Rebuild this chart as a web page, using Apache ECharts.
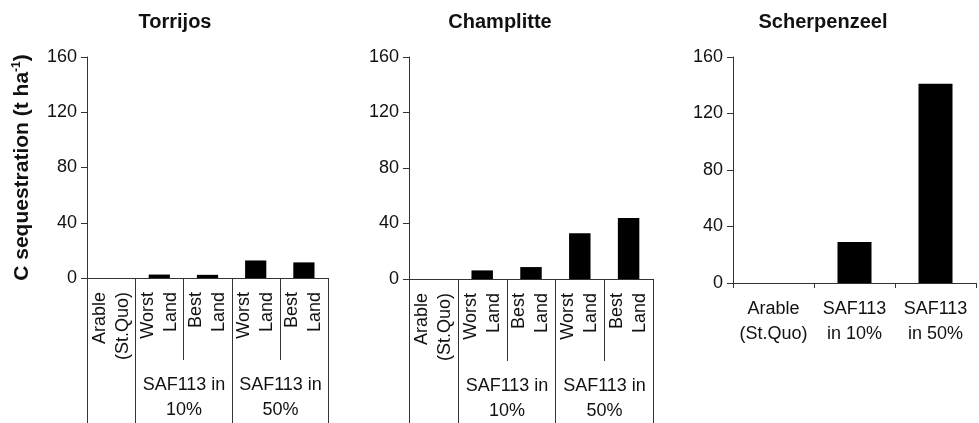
<!DOCTYPE html>
<html>
<head>
<meta charset="utf-8">
<script src="https://cdn.jsdelivr.net/npm/echarts@6/dist/echarts.min.js"></script>
<style>html,body{margin:0;padding:0;background:#fff}#c{width:979px;height:423px}</style>
</head>
<body>
<div id="c"></div>
<script>
// ---- data ----
const siteTitles = ['Torrijos', 'Champlitte', 'Scherpenzeel'];
const detailCategories = ['Arable\n(St.Quo)', 'Worst\nLand', 'Best\nLand', 'Worst\nLand', 'Best\nLand'];
const simpleCategories = ['Arable\n(St.Quo)', 'SAF113\nin 10%', 'SAF113\nin 50%'];
const torrijosValues = [0, 2.5, 2.3, 12.7, 11.3];
const champlitteValues = [0, 6.2, 8.6, 32.9, 44];
const scherpenzeelValues = [0, 29, 141];
const groupLabels = ['', 'SAF113 in\n10%', 'SAF113 in\n50%'];
const groupStart = [0, 1, 3];
const groupEnd = [0, 2, 4];
const yTicks = [0, 40, 80, 120, 160];
const yName = '{a|C sequestration (t ha}{s|-1}{a|)}';

// ---- styling ----
const FONT = 'Liberation Sans, Arial, Helvetica, sans-serif';
const TXT = '#111';
const AX = '#333';

const groupData = groupStart.map((s, i) => [s, 0, groupEnd[i]]);

function vline(x, y1, y2) {
  return {type: 'line', shape: {x1: x, y1: y1, x2: x, y2: y2}, style: {stroke: AX, lineWidth: 1}};
}

function groupRender(params, api) {
  const start = api.value(0), end = api.value(2);
  const band = api.size([1, 0])[0];
  const p0 = api.coord([start, 0]);
  const p1 = api.coord([end, 0]);
  const y0 = p0[1];
  const px = v => Math.round(v) + 0.5;
  const xL = px(p0[0] - band / 2);
  const xR = px(p1[0] + band / 2);
  const children = [vline(xL, y0, y0 + 160), vline(xR, y0, y0 + 160)];
  for (let k = start + 1; k <= end; k++) {
    const xi = px(api.coord([k, 0])[0] - band / 2);
    children.push(vline(xi, y0, y0 + 82));
  }
  children.push({type: 'text', style: {text: groupLabels[params.dataIndex], x: (xL + xR) / 2, y: y0 + 120,
    align: 'center', verticalAlign: 'middle', fill: TXT, fontSize: 18, fontFamily: FONT, lineHeight: 25}});
  return {type: 'group', children: children};
}

function yAxis(idx, withName) {
  const a = {
    type: 'value', gridIndex: idx, min: yTicks[0], max: yTicks[yTicks.length - 1], interval: 40,
    axisLine: {show: true, lineStyle: {color: AX, width: 1}},
    axisTick: {show: true, length: 6, lineStyle: {color: AX}},
    splitLine: {show: false},
    axisLabel: {fontSize: 18, color: TXT, fontFamily: FONT, margin: 10}
  };
  if (withName) {
    Object.assign(a, {
      name: yName, nameLocation: 'middle', nameRotate: 90, nameGap: 54,
      nameTextStyle: {
        rich: {
          a: {fontSize: 21, fontWeight: 'bold', color: TXT, fontFamily: FONT},
          s: {fontSize: 12, fontWeight: 'bold', color: TXT, fontFamily: FONT, verticalAlign: 'top', padding: [0, 0, 10, 0]}
        }
      }
    });
  }
  return a;
}

function xDetail(idx) {
  return {
    type: 'category', gridIndex: idx, data: detailCategories,
    axisLine: {show: true, onZero: true, lineStyle: {color: AX, width: 1}},
    axisTick: {show: false},
    axisLabel: {rotate: 90, interval: 0, fontSize: 18, color: TXT, fontFamily: FONT, margin: 14, lineHeight: 23}
  };
}

const chart = echarts.init(document.getElementById('c'), null, {renderer: 'canvas'});
chart.setOption({
  animation: false,
  backgroundColor: '#fff',
  title: [
    {text: siteTitles[0], left: 175, top: 12, textAlign: 'center', padding: 0, textStyle: {fontSize: 20, fontWeight: 'bold', color: TXT, fontFamily: FONT}},
    {text: siteTitles[1], left: 500, top: 12, textAlign: 'center', padding: 0, textStyle: {fontSize: 20, fontWeight: 'bold', color: TXT, fontFamily: FONT}},
    {text: siteTitles[2], left: 823, top: 12, textAlign: 'center', padding: 0, textStyle: {fontSize: 20, fontWeight: 'bold', color: TXT, fontFamily: FONT}}
  ],
  grid: [
    {left: 87, top: 57, width: 241, height: 221, containLabel: false},
    {left: 409, top: 57, width: 244, height: 222, containLabel: false},
    {left: 733, top: 57, width: 243, height: 226, containLabel: false}
  ],
  xAxis: [
    xDetail(0),
    xDetail(1),
    {
      type: 'category', gridIndex: 2, data: simpleCategories,
      axisLine: {show: true, lineStyle: {color: AX, width: 1}},
      axisTick: {show: true, length: 5, interval: 0, lineStyle: {color: AX}},
      axisLabel: {interval: 0, fontSize: 18, color: TXT, fontFamily: FONT, margin: 14, lineHeight: 25}
    }
  ],
  yAxis: [yAxis(0, true), yAxis(1, false), yAxis(2, false)],
  series: [
    {type: 'bar', xAxisIndex: 0, yAxisIndex: 0, data: torrijosValues, barWidth: '44%', itemStyle: {color: '#000'}},
    {type: 'bar', xAxisIndex: 1, yAxisIndex: 1, data: champlitteValues, barWidth: '44%', itemStyle: {color: '#000'}},
    {type: 'bar', xAxisIndex: 2, yAxisIndex: 2, data: scherpenzeelValues, barWidth: '42%', itemStyle: {color: '#000'}},
    {type: 'custom', xAxisIndex: 0, yAxisIndex: 0, data: groupData, renderItem: groupRender, clip: false, silent: true, encode: {x: 0, y: 1}},
    {type: 'custom', xAxisIndex: 1, yAxisIndex: 1, data: groupData, renderItem: groupRender, clip: false, silent: true, encode: {x: 0, y: 1}}
  ]
});
</script>
</body>
</html>
